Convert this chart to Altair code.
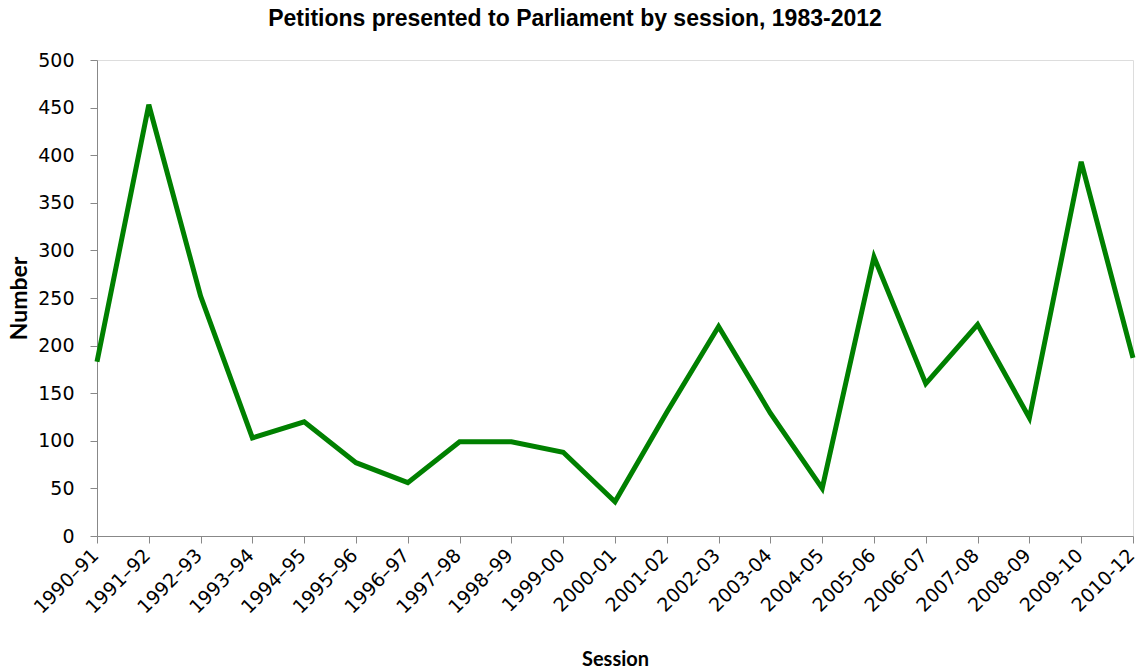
import altair as alt
import pandas as pd

sessions = [
    "1990–91", "1991–92", "1992–93", "1993–94", "1994–95", "1995–96",
    "1996–97", "1997–98", "1998–99", "1999-00", "2000-01", "2001-02",
    "2002-03", "2003-04", "2004-05", "2005-06", "2006-07", "2007-08",
    "2008-09", "2009-10", "2010-12",
]
petitions = [
    183, 453, 252, 103, 120, 77,
    56, 99, 99, 88, 36, 130,
    220, 129, 50, 293, 160, 222,
    124, 393, 187,
]

df = pd.DataFrame({"Session": sessions, "Number": petitions})

tick_font = "DejaVu Sans"
title_font = "Lato"

chart = (
    alt.Chart(df)
    .mark_line(color="#008000", strokeWidth=5, strokeJoin="miter", strokeCap="butt")
    .encode(
        x=alt.X(
            "Session:N",
            sort=sessions,
            scale=alt.Scale(type="point", padding=0),
            axis=alt.Axis(
                title="Session",
                labelAngle=-45,
                labelAlign="right",
                labelBaseline="middle",
                labelPadding=9,
                labelOffset=-2,
                labelFontSize=19,
                labelFont=tick_font,
                labelColor="#000000",
                titleFont=title_font,
                titleFontSize=20,
                titleFontWeight="bold",
                titleColor="#000000",
                titlePadding=32,
                tickSize=7,
                tickColor="#888888",
                domainColor="#888888",
                grid=False,
            ),
        ),
        y=alt.Y(
            "Number:Q",
            scale=alt.Scale(domain=[0, 500], nice=False),
            axis=alt.Axis(
                title="Number",
                values=list(range(0, 501, 50)),
                labelFontSize=19,
                labelFont=tick_font,
                labelColor="#000000",
                labelPadding=16,
                titleFont=title_font,
                titleFontSize=23,
                titleFontWeight="bold",
                titleColor="#000000",
                titlePadding=6,
                tickSize=7,
                tickColor="#888888",
                domainColor="#888888",
                grid=False,
            ),
        ),
    )
    .properties(
        width=1036,
        height=476,
        autosize=alt.AutoSizeParams(type="none"),
        padding={"left": 97, "top": 60, "right": 10, "bottom": 135},
        title=alt.TitleParams(
            "Petitions presented to Parliament by session, 1983-2012",
            font="Liberation Sans",
            fontSize=23,
            fontWeight="bold",
            color="#000000",
            anchor="middle",
            dx=-40,
            offset=20,
        ),
    )
    .configure_view(stroke=None)
    .configure(background="white")
)

chart.save("out.html", embed_options={"renderer": "svg", "actions": False})
